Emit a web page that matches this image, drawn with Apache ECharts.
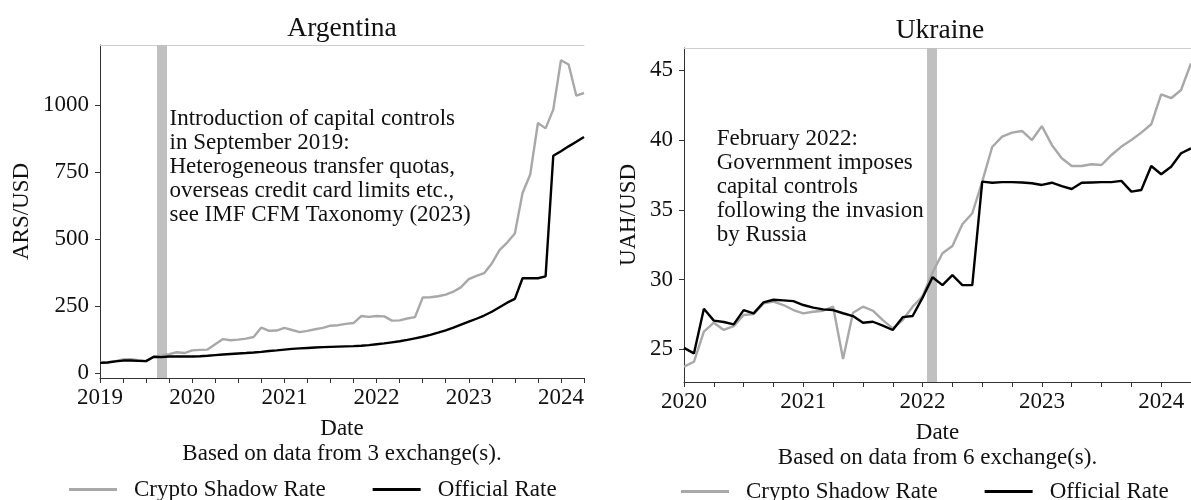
<!DOCTYPE html>
<html>
<head>
<meta charset="utf-8">
<script src="https://cdn.jsdelivr.net/npm/echarts@6/dist/echarts.min.js"></script>
<style>
  html, body { margin: 0; padding: 0; background: #fff; overflow: hidden; }
  #chart { width: 1191px; height: 500px; }
</style>
</head>
<body>
<div id="chart"></div>
<script>
// ---- Argentina: monthly ARS/USD ----
const argMonths = [
  '2019-01','2019-02','2019-03','2019-04','2019-05','2019-06','2019-07','2019-08','2019-09','2019-10','2019-11','2019-12',
  '2020-01','2020-02','2020-03','2020-04','2020-05','2020-06','2020-07','2020-08','2020-09','2020-10','2020-11','2020-12',
  '2021-01','2021-02','2021-03','2021-04','2021-05','2021-06','2021-07','2021-08','2021-09','2021-10','2021-11','2021-12',
  '2022-01','2022-02','2022-03','2022-04','2022-05','2022-06','2022-07','2022-08','2022-09','2022-10','2022-11','2022-12',
  '2023-01','2023-02','2023-03','2023-04','2023-05','2023-06','2023-07','2023-08','2023-09','2023-10','2023-11','2023-12',
  '2024-01','2024-02','2024-03','2024-04'
];
const argCrypto = [
  38, 40, 44, 50, 51, 47, 44, 60, 64, 70, 77, 74,
  84, 86, 87, 107, 126, 122, 124, 128, 134, 169, 157, 158,
  168, 160, 152, 157, 163, 168, 176, 178, 183, 186, 212, 209,
  212, 211, 195, 196, 203, 208, 281, 282, 286, 292, 303, 320,
  350, 362, 372, 408, 458, 486, 520, 671, 740, 932, 912, 982,
  1166, 1150, 1034, 1044
];
const argOfficial = [
  37.5, 39, 43, 46, 46, 45, 44, 60, 59, 61, 61, 61,
  61, 62, 64, 66.5, 68.5, 70.5, 72.5, 74, 76, 78.5, 81.5, 84,
  87, 89.5, 91.5, 93, 94.5, 96, 97, 98, 99, 100, 101.5, 103.5,
  107, 110, 114, 118, 123, 129, 135, 142, 150, 159, 169, 180,
  191, 202, 214, 228, 245, 262, 276, 353, 353, 353, 360, 810,
  827, 845, 862, 880
];
const argYears = ['2019', '2020', '2021', '2022', '2023', '2024'];
const argYTicks = [0, 250, 500, 750, 1000];
const argEvent = '2019-09';

// ---- Ukraine: monthly UAH/USD ----
const uaMonths = [
  '2020-01','2020-02','2020-03','2020-04','2020-05','2020-06','2020-07','2020-08','2020-09','2020-10','2020-11','2020-12',
  '2021-01','2021-02','2021-03','2021-04','2021-05','2021-06','2021-07','2021-08','2021-09','2021-10','2021-11','2021-12',
  '2022-01','2022-02','2022-03','2022-04','2022-05','2022-06','2022-07','2022-08','2022-09','2022-10','2022-11','2022-12',
  '2023-01','2023-02','2023-03','2023-04','2023-05','2023-06','2023-07','2023-08','2023-09','2023-10','2023-11','2023-12',
  '2024-01','2024-02','2024-03','2024-04'
];
const uaCrypto = [
  23.75, 24.1, 26.26, 26.9, 26.38, 26.66, 27.45, 27.52, 28.29, 28.41, 28.17, 27.81,
  27.57, 27.69, 27.76, 28.05, 24.3, 27.62, 28.05, 27.76, 27.09, 26.5, 27.09, 28.05,
  28.8, 30.5, 31.88, 32.4, 33.96, 34.75, 37.02, 39.5, 40.24, 40.53, 40.65, 40.0,
  41.0, 39.65, 38.69, 38.14, 38.14, 38.26, 38.21, 38.93, 39.53, 40.0, 40.53, 41.13,
  43.28, 43.0, 43.59, 45.5
];
const uaOfficial = [
  25.1, 24.7, 27.9, 27.05, 26.95, 26.78, 27.8, 27.57, 28.36, 28.55, 28.5, 28.45,
  28.17, 27.98, 27.86, 27.81, 27.58, 27.38, 26.9, 26.97, 26.69, 26.38, 27.3, 27.38,
  28.7, 30.16, 29.6, 30.32, 29.6, 29.6, 37.02, 36.94, 36.98, 36.98, 36.96, 36.9,
  36.78, 36.94, 36.7, 36.49, 36.94, 36.96, 36.98, 36.98, 37.07, 36.3, 36.42, 38.14,
  37.55, 38.09, 39.05, 39.4
];
const uaYears = ['2020', '2021', '2022', '2023', '2024'];
const uaYTicks = [25, 30, 35, 40, 45];
const uaEvent = '2022-02';

const seriesNames = ['Crypto Shadow Rate', 'Official Rate'];
const argNote = 'Introduction of capital controls\nin September 2019:\nHeterogeneous transfer quotas,\noverseas credit card limits etc.,\nsee IMF CFM Taxonomy (2023)';
const uaNote = 'February 2022:\nGovernment imposes\ncapital controls\nfollowing the invasion\nby Russia';

// ---- helpers ----
const FONT = '"Liberation Serif", "Times New Roman", serif';
const FS = 23;
const INK = '#111';
const SPINE = '#333';
const GREY_LINE = '#a8a8a8';

// months are placed on a decimal-year scale: 'YYYY-MM' -> YYYY + (MM-1)/12
const toYear = s => { const [y, m] = s.split('-').map(Number); return y + (m - 1) / 12; };
const pairs = (months, vals) => months.map((m, i) => [toYear(m), vals[i]]);
// quarterly tick marks between the axis ends
function quarterTicks(first, last) {
  const out = [];
  const a = toYear(first), b = toYear(last) + 1e-9;
  for (let t = Math.ceil(a * 4) / 4; t <= b; t += 0.25) out.push(+t.toFixed(2));
  return out;
}

const textBase = { fontFamily: FONT, fontSize: FS, color: INK };

function yearAxis(grid, months, years, note) {
  return {
    type: 'value', gridIndex: grid,
    min: toYear(months[0]), max: toYear(months[months.length - 1]),
    axisLine: { show: true, onZero: false, lineStyle: { color: SPINE, width: 1 } },
    axisTick: { show: true, length: 5, inside: false, customValues: quarterTicks(months[0], months[months.length - 1]), lineStyle: { color: SPINE } },
    axisLabel: { ...textBase, margin: 8, customValues: years.map(Number), formatter: v => String(Math.round(v)), hideOverlap: false },
    splitLine: { show: false },
    name: 'Date\n' + note, nameLocation: 'middle', nameGap: 38,
    nameTextStyle: { ...textBase, lineHeight: 25 }
  };
}
function topSpine(grid) {
  return {
    type: 'value', gridIndex: grid, position: 'top', min: 0, max: 1,
    axisLine: { show: true, onZero: false, lineStyle: { color: '#cfcfcf', width: 1 } },
    axisTick: { show: false }, axisLabel: { show: false }, splitLine: { show: false }
  };
}
function valueAxis(grid, min, max, ticks, name, gap) {
  return {
    type: 'value', gridIndex: grid, min, max,
    axisLine: { show: true, onZero: false, lineStyle: { color: SPINE, width: 1 } },
    axisTick: { show: true, length: 5, customValues: ticks, lineStyle: { color: SPINE } },
    axisLabel: { ...textBase, margin: 11, customValues: ticks, formatter: v => String(v) },
    splitLine: { show: false },
    name, nameLocation: 'middle', nameGap: gap, nameTextStyle: { ...textBase }
  };
}
function lines(axisIdx, months, crypto, official, event) {
  return [
    {
      name: seriesNames[0], type: 'line', xAxisIndex: axisIdx, yAxisIndex: axisIdx,
      data: pairs(months, crypto), showSymbol: false, symbol: 'none', z: 3,
      lineStyle: { color: GREY_LINE, width: 2.4 }, itemStyle: { color: GREY_LINE },
      emphasis: { disabled: true },
      markLine: {
        silent: true, z: 1, symbol: ['none', 'none'], label: { show: false },
        lineStyle: { color: '#c0c0c0', width: 10, type: 'solid', opacity: 1 },
        emphasis: { disabled: true },
        data: [{ xAxis: toYear(event) }]
      }
    },
    {
      name: seriesNames[1], type: 'line', xAxisIndex: axisIdx, yAxisIndex: axisIdx,
      data: pairs(months, official), showSymbol: false, symbol: 'none', z: 4,
      lineStyle: { color: '#000', width: 2.4 }, itemStyle: { color: '#000' },
      emphasis: { disabled: true }
    }
  ];
}
function legend(left, top) {
  return {
    left, top, padding: 0, orient: 'horizontal', data: seriesNames, icon: 'rect',
    itemWidth: 48, itemHeight: 3, itemGap: 47, selectedMode: false,
    textStyle: { ...textBase, padding: [0, 0, 0, 12] }
  };
}

const chart = echarts.init(document.getElementById('chart'), null, { renderer: 'canvas' });
chart.setOption({
  animation: false,
  backgroundColor: '#fff',
  title: [
    { text: 'Argentina', left: 342, top: 15, textAlign: 'center', padding: 0, textStyle: { fontFamily: FONT, fontSize: 27.5, fontWeight: 'normal', color: INK } },
    { text: 'Ukraine', left: 940, top: 17, textAlign: 'center', padding: 0, textStyle: { fontFamily: FONT, fontSize: 27.5, fontWeight: 'normal', color: INK } }
  ],
  grid: [
    { left: 100, top: 45, width: 484, height: 333 },
    { left: 684, top: 48, width: 512, height: 334 }
  ],
  xAxis: [
    yearAxis(0, argMonths, argYears, 'Based on data from 3 exchange(s).'),
    yearAxis(1, uaMonths, uaYears, 'Based on data from 6 exchange(s).'),
    topSpine(0),
    topSpine(1)
  ],
  yAxis: [
    valueAxis(0, -19, 1223, argYTicks, 'ARS/USD', 67),
    valueAxis(1, 22.65, 46.6, uaYTicks, 'UAH/USD', 44)
  ],
  legend: [legend(69, 478), legend(681, 480)],
  series: [
    ...lines(0, argMonths, argCrypto, argOfficial, argEvent),
    ...lines(1, uaMonths, uaCrypto, uaOfficial, uaEvent)
  ],
  graphic: [
    { type: 'text', x: 169.5, y: 107, silent: true, style: { text: argNote, fontFamily: FONT, fontSize: FS, fill: INK, lineHeight: 24, verticalAlign: 'top' } },
    { type: 'text', x: 716.7, y: 127, silent: true, style: { text: uaNote, fontFamily: FONT, fontSize: FS, fill: INK, lineHeight: 24, verticalAlign: 'top' } }
  ]
});
</script>
</body>
</html>
